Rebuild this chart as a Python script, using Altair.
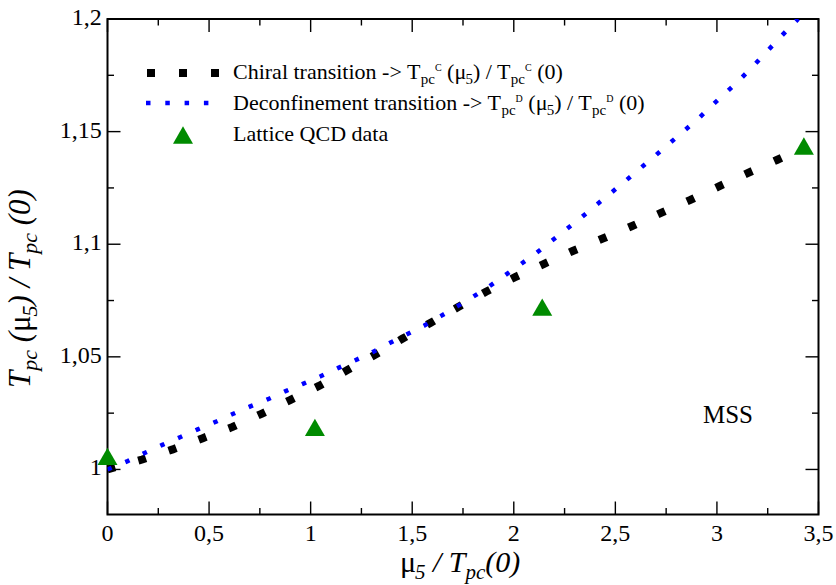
import altair as alt
import pandas as pd

# ---------------- data ----------------
chiral_x = [0.0, 0.171, 0.321, 0.469, 0.616, 0.758, 0.899, 1.041, 1.179, 1.315, 1.451,
            1.589, 1.726, 1.863, 2.004, 2.147, 2.290, 2.435, 2.580, 2.722, 2.867, 3.010,
            3.151, 3.295, 3.440]
chiral_y = [1.0, 1.0044, 1.0089, 1.0139, 1.0189, 1.0247, 1.0308, 1.0371, 1.0440, 1.0508, 1.0580,
            1.0650, 1.0721, 1.0789, 1.0853, 1.0912, 1.0970, 1.1024, 1.1080, 1.1138, 1.1196, 1.1257,
            1.1316, 1.1374, 1.1435]

deconf_x = [0.0, 0.099, 0.185, 0.270, 0.357, 0.444, 0.531, 0.616, 0.703, 0.790, 0.877, 0.962,
            1.049, 1.134, 1.220, 1.307, 1.389, 1.472, 1.558, 1.640, 1.723, 1.802, 1.881, 1.958,
            2.035, 2.112, 2.186, 2.260, 2.334, 2.407, 2.479, 2.552, 2.624, 2.696, 2.768, 2.839,
            2.911, 2.978, 3.049, 3.116, 3.183, 3.247, 3.313, 3.377, 3.400]
deconf_y = [1.0, 1.0037, 1.0074, 1.0109, 1.0143, 1.0178, 1.0211, 1.0246, 1.0280, 1.0312, 1.0348, 1.0380,
            1.0414, 1.0450, 1.0485, 1.0522, 1.0561, 1.0599, 1.0638, 1.0681, 1.0725, 1.0768, 1.0814, 1.0863,
            1.0912, 1.0962, 1.1015, 1.1067, 1.1120, 1.1175, 1.1228, 1.1283, 1.1338, 1.1393, 1.1449, 1.1504,
            1.1560, 1.1618, 1.1677, 1.1734, 1.1795, 1.1857, 1.1920, 1.1980, 1.2000]

lattice_x = [0.0, 1.021, 2.140, 3.428]
lattice_y = [1.0058, 1.0187, 1.0721, 1.1436]

x_major = [0, 0.5, 1, 1.5, 2, 2.5, 3, 3.5]
x_minor = [0.25, 0.75, 1.25, 1.75, 2.25, 2.75, 3.25]
y_major = [1.0, 1.05, 1.1, 1.15, 1.2]
y_minor = [1.025, 1.075, 1.125, 1.175]

legend_labels = ["Chiral transition", "Deconfinement transition", "Lattice QCD data"]
annotation = "MSS"

# ---------------- layout ----------------
L, T = 107.5, 19.0          # plot origin in page pixels
W, H = 711.0, 495.5         # plot area
FONT = "Liberation Serif"
GREEN = "#008b00"
MAJ, MIN = 13, 6.5

xs = alt.Scale(domain=[0, 3.5], nice=False, zero=False)
ys = alt.Scale(domain=[0.98, 1.2], nice=False, zero=False)


def fmt(v):
    return f"{v:g}".replace(".", ",")


df_c = pd.DataFrame({"x": chiral_x, "y": chiral_y})
df_d = pd.DataFrame({"x": deconf_x, "y": deconf_y})
df_l = pd.DataFrame({"x": lattice_x, "y": lattice_y})

layers = []

# tick labels (comma decimals)
layers.append(alt.Chart(pd.DataFrame({"v": x_major, "s": [fmt(v) for v in x_major]})).mark_text(
    font=FONT, fontSize=24, color="black", align="center", baseline="alphabetic").encode(
    x=alt.X("v:Q", scale=xs, axis=None), y=alt.value(H + 26.5), text="s:N"))
layers.append(alt.Chart(pd.DataFrame({"v": y_major, "s": [fmt(v) for v in y_major]})).mark_text(
    font=FONT, fontSize=24, color="black", align="right", baseline="alphabetic", dy=6).encode(
    y=alt.Y("v:Q", scale=ys, axis=None), x=alt.value(-5.8), text="s:N"))


# inward ticks on all four sides
def xticks(vals, ln):
    d = pd.DataFrame({"v": vals})
    b = alt.Chart(d).mark_rule(color="black", strokeWidth=1.4).encode(
        x=alt.X("v:Q", scale=xs, axis=None), y=alt.value(H), y2=alt.value(H - ln))
    t = alt.Chart(d).mark_rule(color="black", strokeWidth=1.4).encode(
        x=alt.X("v:Q", scale=xs, axis=None), y=alt.value(0), y2=alt.value(ln))
    return [b, t]


def yticks(vals, ln):
    d = pd.DataFrame({"v": vals})
    l = alt.Chart(d).mark_rule(color="black", strokeWidth=1.4).encode(
        y=alt.Y("v:Q", scale=ys, axis=None), x=alt.value(0), x2=alt.value(ln))
    r = alt.Chart(d).mark_rule(color="black", strokeWidth=1.4).encode(
        y=alt.Y("v:Q", scale=ys, axis=None), x=alt.value(W), x2=alt.value(W - ln))
    return [l, r]


layers += xticks(x_major, MAJ) + xticks(x_minor, MIN) + yticks(y_major, MAJ) + yticks(y_minor, MIN)

# curves
layers.append(alt.Chart(df_c).mark_line(color="black", strokeWidth=8, strokeDash=[8, 24],
                                        strokeCap="butt", clip=True).encode(
    x=alt.X("x:Q", scale=xs, axis=None), y=alt.Y("y:Q", scale=ys, axis=None)))
layers.append(alt.Chart(df_d).mark_line(color="#0000ff", strokeWidth=4.5, strokeDash=[4.5, 14.8],
                                        strokeCap="butt", clip=True).encode(
    x=alt.X("x:Q", scale=xs, axis=None), y=alt.Y("y:Q", scale=ys, axis=None)))
layers.append(alt.Chart(df_l).mark_point(shape="triangle-up", filled=True, size=400, color=GREEN,
                                         opacity=1, strokeWidth=0).encode(
    x=alt.X("x:Q", scale=xs, axis=None), y=alt.Y("y:Q", scale=ys, axis=None)))

# ---------------- rich text helper ----------------
REG = {" ": 250, "-": 333, ">": 564, "/": 278, "(": 333, ")": 333, "0": 500, "5": 500,
       "C": 667, "D": 722, "T": 611, "Q": 722, "L": 611, "M": 889, "S": 556,
       "a": 444, "c": 444, "d": 500, "e": 444, "f": 333, "h": 500, "i": 278, "l": 278,
       "m": 778, "n": 500, "o": 500, "p": 500, "r": 333, "s": 389, "t": 278, "μ": 500}
ITA = {" ": 250, "/": 278, "(": 333, ")": 333, "0": 500, "5": 500, "T": 556, "p": 500, "c": 444, "μ": 500}


def width(s, size, italic):
    tab = ITA if italic else REG
    return sum(tab.get(ch, 500) for ch in s) * size / 1000.0


def rich(segments, x0, y0, base, sub, sup, sub_shift, sup_shift, angle=0):
    out = []
    adv = 0.0
    for text, kind, italic in segments:
        if kind == "sub":
            size, shift = sub, sub_shift
        elif kind == "sup":
            size, shift = sup, -sup_shift
        else:
            size, shift = base, 0
        lead = len(text) - len(text.lstrip(" "))
        adv += width(" " * lead, size, italic)
        body = text.strip(" ")
        trail = len(text) - lead - len(body)
        if angle == 0:
            px, py = x0 + adv, y0 + shift
        else:
            px, py = x0 + shift, y0 - adv
        d = pd.DataFrame({"t": [body]})
        out.append(alt.Chart(d).mark_text(
            align="left", baseline="alphabetic", font=FONT, fontSize=size,
            fontStyle="italic" if italic else "normal", color="black", angle=angle
        ).encode(text="t:N", x=alt.value(px - L), y=alt.value(py - T)))
        adv += width(body, size, italic) + width(" " * trail, size, italic)
    return out


# legend
LX = 233
rows_y = [78.5, 109.5, 140.5]
seg1 = [(legend_labels[0] + " -> T", "n", False), ("pc", "sub", False), ("C", "sup", False),
        (" (μ", "n", False), ("5", "sub", False), (") / T", "n", False), ("pc", "sub", False),
        ("C", "sup", False), (" (0)", "n", False)]
seg2 = [(legend_labels[1] + " -> T", "n", False), ("pc", "sub", False), ("D", "sup", False),
        (" (μ", "n", False), ("5", "sub", False), (") / T", "n", False), ("pc", "sub", False),
        ("D", "sup", False), (" (0)", "n", False)]
seg3 = [(legend_labels[2], "n", False)]
for seg, yy in zip([seg1, seg2, seg3], rows_y):
    layers += rich(seg, LX, yy, 22, 15, 10, 5, 8)

one = pd.DataFrame({"k": [0]})
layers.append(alt.Chart(one).mark_rule(color="black", strokeWidth=8, strokeDash=[8, 24],
                                       strokeCap="butt").encode(
    x=alt.value(147 - L), x2=alt.value(219 - L), y=alt.value(73 - T)))
layers.append(alt.Chart(one).mark_rule(color="#0000ff", strokeWidth=4.5, strokeDash=[4.5, 14.8],
                                       strokeCap="butt").encode(
    x=alt.value(146 - L), x2=alt.value(209 - L), y=alt.value(103 - T)))
layers.append(alt.Chart(one).mark_point(shape="triangle-up", filled=True, size=400, color=GREEN,
                                        opacity=1, strokeWidth=0).encode(
    x=alt.value(183 - L), y=alt.value(135 - T)))

# MSS annotation
layers.append(alt.Chart(pd.DataFrame({"t": [annotation]})).mark_text(
    font=FONT, fontSize=25, color="black", align="center", baseline="alphabetic").encode(
    text="t:N", x=alt.value(728 - L), y=alt.value(423 - T)))

# axis titles
xt = [("μ", "n", False), ("5", "sub", True), (" / ", "n", True), ("T", "n", True),
      ("pc", "sub", True), ("(0)", "n", True)]
layers += rich(xt, 400, 572, 30, 21, 14, 7, 10)
yt = [("T", "n", True), ("pc", "sub", True), (" (", "n", True), ("μ", "n", False), ("5", "sub", True),
      (")", "n", True), (" / ", "n", True), ("T", "n", True), ("pc", "sub", True), (" (0)", "n", True)]
layers += rich(yt, 30, 388, 31, 22, 14, 7, 10, angle=270)

chart = alt.layer(*layers).properties(
    width=W, height=H,
    autosize=alt.AutoSizeParams(type="none"),
    padding={"left": L, "top": T, "right": 836 - L - W, "bottom": 585 - T - H},
).configure_view(stroke="black", strokeWidth=2)

chart.save("out.html", embed_options={"renderer": "svg", "actions": False})
